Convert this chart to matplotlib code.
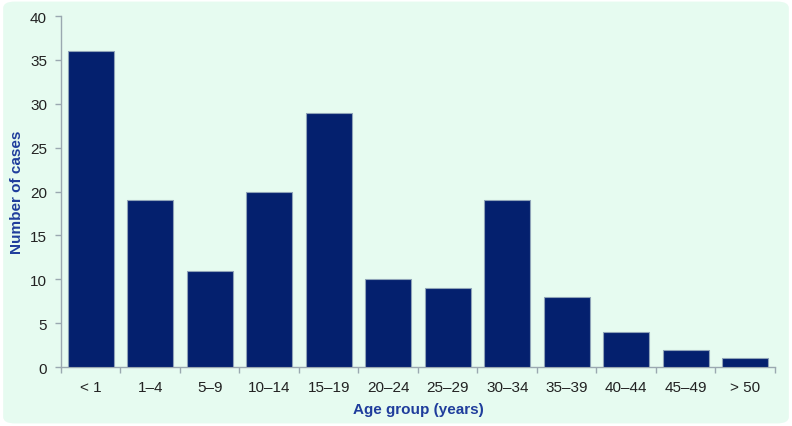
import matplotlib
matplotlib.use("Agg")
import matplotlib.pyplot as plt
from matplotlib.patches import FancyBboxPatch
import numpy as np

categories = ["< 1", "1–4", "5–9", "10–14", "15–19", "20–24", "25–29", "30–34", "35–39", "40–44", "45–49", "> 50"]
cases = [36, 19, 11, 20, 29, 10, 9, 19, 8, 4, 2, 1]
yticks = [0, 5, 10, 15, 20, 25, 30, 35, 40]

plt.rcParams['font.family'] = ['Liberation Sans', 'DejaVu Sans']

fig = plt.figure(figsize=(7.92, 4.27), dpi=100, facecolor="white")
bg = FancyBboxPatch((0.004, 0.006), 0.992, 0.988, boxstyle="round,pad=0,rounding_size=0.015",
                    transform=fig.transFigure, facecolor="#e6fbf0", edgecolor="none", zorder=-10)
fig.patches.append(bg)

ax = fig.add_axes([0.077, 0.138, 0.9015, 0.822])
ax.set_facecolor("none")
x = np.arange(len(categories))
ax.bar(x, cases, width=0.77, color="#04206e", edgecolor="#8fa3b8", linewidth=0.8, zorder=3)

ax.set_xlim(-0.5, len(categories) - 0.5)
ax.set_ylim(0, 40)
ax.set_yticks(yticks)
ax.set_xticks(x)
ax.set_xticklabels(categories)
ax.set_xticks(np.arange(-0.5, len(categories)), minor=True)
ax.tick_params(axis="x", which="major", length=0, pad=9, labelsize=11, colors="#222222")
ax.tick_params(axis="x", which="minor", length=4, color="#9aa8b0", width=1)
ax.tick_params(axis="y", length=4, color="#9aa8b0", width=1, pad=6, labelsize=11, labelcolor="#222222")

for s in ["top", "right"]:
    ax.spines[s].set_visible(False)
for s in ["left", "bottom"]:
    ax.spines[s].set_color("#9aa8b0")
    ax.spines[s].set_linewidth(1)

fig.text(418 / 792, 1 - 410 / 427, "Age group (years)", color="#1f3d9c", fontweight="bold",
         fontsize=11, ha="center", va="center")
fig.text(17 / 792, 1 - 192 / 427, "Number of cases", color="#1f3d9c", fontweight="bold",
         fontsize=11, ha="center", va="center", rotation=90)

fig.savefig("out.png", dpi=100, facecolor="white")
